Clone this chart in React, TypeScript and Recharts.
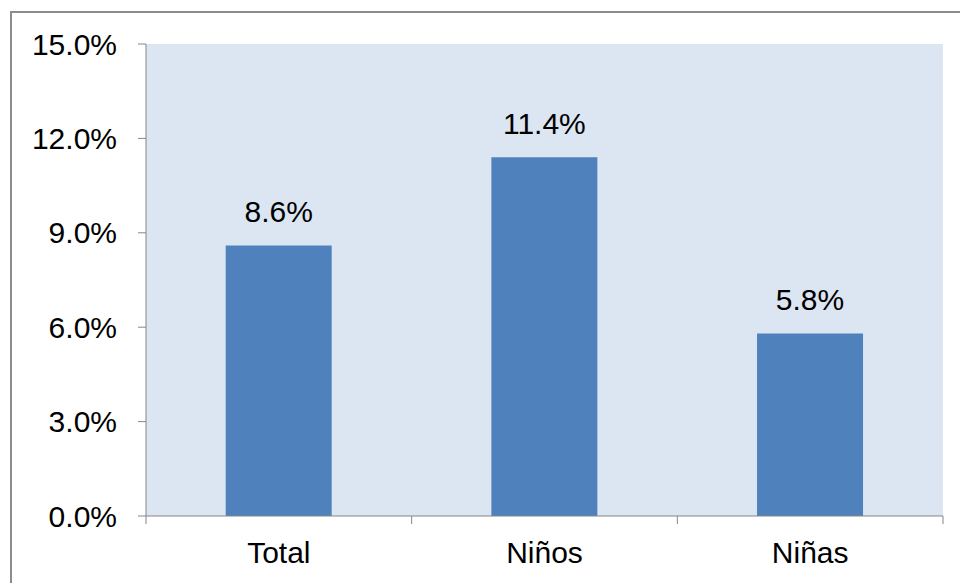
import React from "react";
import { BarChart, Bar, XAxis, YAxis, CartesianGrid, LabelList } from "recharts";

const categories = ["Total", "Niños", "Niñas"];
const values = [8.6, 11.4, 5.8];
const yTicks = [0, 3, 6, 9, 12, 15];

const data = categories.map((c, i) => ({ name: c, value: values[i] }));

const W = 960;
const H = 583;
const X_AXIS_H = 67;
const Y_AXIS_W = 136;
const MARGIN = { top: 44, right: 17, bottom: 0, left: 10 };
const PLOT_W = W - MARGIN.left - MARGIN.right - Y_AXIS_W;
const HALF_BAND = PLOT_W / categories.length / 2;
const FONT = "'Liberation Sans', Arial, sans-serif";
const FONT_SIZE = 30;
const AXIS_COLOR = "#868686";
const TICK_MARGIN = 26;

const XTick = (props: any) => {
  const { x, y, payload, index } = props;
  const axisY = y - TICK_MARGIN;
  return (
    <g>
      <line x1={x - HALF_BAND} x2={x - HALF_BAND} y1={axisY} y2={axisY + 8} stroke={AXIS_COLOR} strokeWidth={1} />
      {index === categories.length - 1 && (
        <line x1={x + HALF_BAND} x2={x + HALF_BAND} y1={axisY} y2={axisY + 8} stroke={AXIS_COLOR} strokeWidth={1} />
      )}
      <text x={x} y={y} dy="0.71em" textAnchor="middle" fontSize={FONT_SIZE} fontFamily={FONT} fill="#000">
        {payload.value}
      </text>
    </g>
  );
};

export default function App() {
  return (
    <div style={{ position: "absolute", left: 0, top: 0, width: W, height: H, background: "#fff", overflow: "hidden" }}>
      <div
        style={{
          position: "absolute",
          left: 10,
          top: 11,
          width: W,
          height: H,
          borderLeft: "2px solid #8c8c8c",
          borderTop: "2px solid #8c8c8c",
        }}
      />
      <div style={{ position: "absolute", left: 0, top: 0 }}>
        <BarChart width={W} height={H} data={data} margin={MARGIN} barCategoryGap="30%">
          <CartesianGrid horizontal={false} vertical={false} fill="#dce6f2" />
          <XAxis
            dataKey="name"
            tickLine={false}
            tickSize={0}
            tickMargin={TICK_MARGIN}
            axisLine={{ stroke: AXIS_COLOR, strokeWidth: 1 }}
            tick={<XTick />}
            interval={0}
            height={X_AXIS_H}
          />
          <YAxis
            width={Y_AXIS_W}
            domain={[0, 15]}
            ticks={yTicks}
            interval={0}
            tickSize={8}
            tickMargin={21}
            axisLine={{ stroke: AXIS_COLOR, strokeWidth: 1 }}
            tickLine={{ stroke: AXIS_COLOR, strokeWidth: 1 }}
            tickFormatter={(v: number) => v.toFixed(1) + "%"}
            tick={{ fontSize: FONT_SIZE, fontFamily: FONT, fill: "#000" }}
          />
          <Bar dataKey="value" fill="#4f81bd" isAnimationActive={false}>
            <LabelList
              dataKey="value"
              position="top"
              offset={23}
              formatter={(v: number) => v.toFixed(1) + "%"}
              style={{ fontSize: FONT_SIZE, fontFamily: FONT, fill: "#000" }}
            />
          </Bar>
        </BarChart>
      </div>
    </div>
  );
}
